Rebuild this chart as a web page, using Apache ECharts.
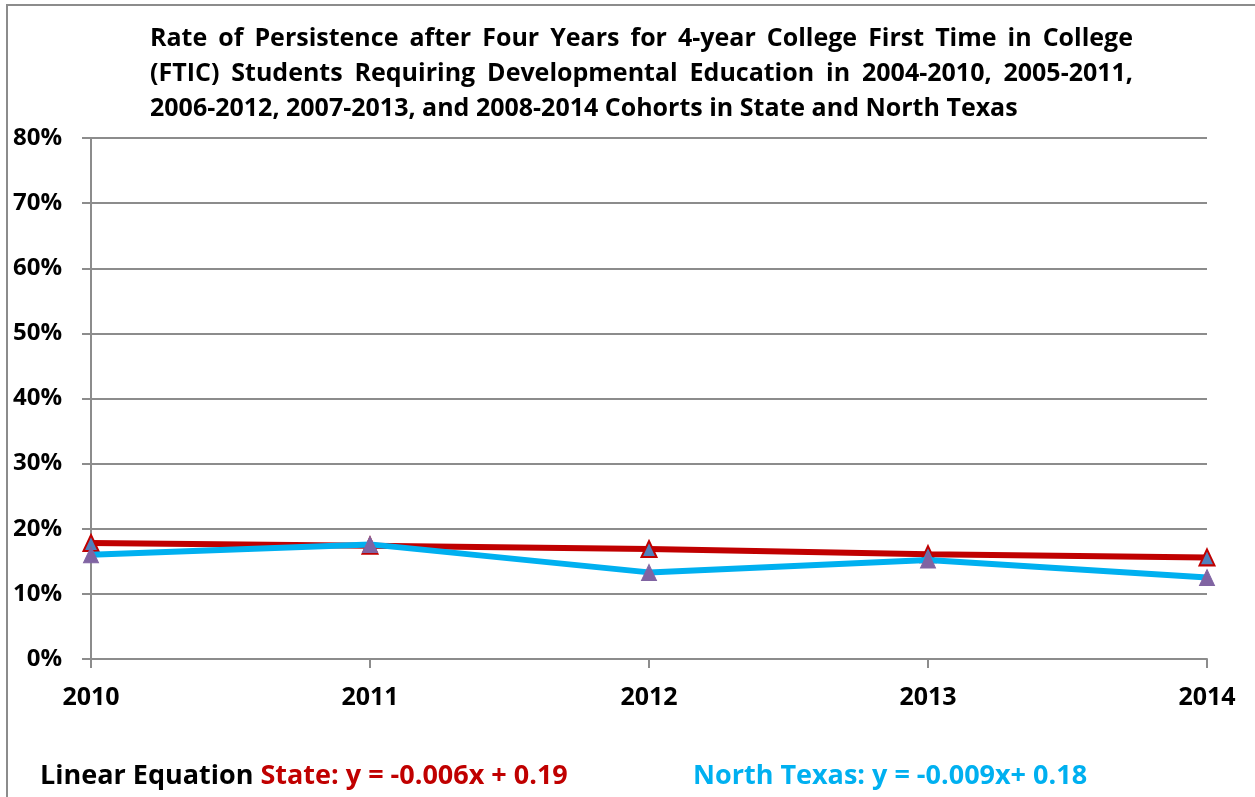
<!DOCTYPE html>
<html>
<head>
<meta charset="utf-8">
<script src="https://cdn.jsdelivr.net/npm/echarts@6/dist/echarts.min.js"></script>
<style>
  html, body { margin: 0; padding: 0; background: #ffffff; }
  #chart { width: 1255px; height: 797px; }
</style>
</head>
<body>
<div id="chart"></div>
<script>
// Cohort end years
const years = ['2010', '2011', '2012', '2013', '2014'];
// Persistence rates (%)
const stateRates = [17.8, 17.4, 16.9, 16.1, 15.6];
const northTexasRates = [16.0, 17.6, 13.3, 15.2, 12.5];
// Y axis ticks (%)
const yTicks = [0, 10, 20, 30, 40, 50, 60, 70, 80];

const titleLines = [
  'Rate of Persistence after Four Years for 4-year College First Time in College',
  '(FTIC) Students Requiring Developmental Education in 2004-2010, 2005-2011,',
  '2006-2012, 2007-2013, and 2008-2014 Cohorts in State and North Texas'
];

const FONT = '"Open Sans", "Noto Sans", sans-serif';
const TITLE_FONT = 'bold 25px ' + FONT;
const TITLE_LEFT = 150;
const TITLE_RIGHT = 1133;

// Lay out title words; every line but the last is justified to the full width
const ctx = document.createElement('canvas').getContext('2d');
ctx.font = TITLE_FONT;
const titleGraphics = [];
titleLines.forEach((line, i) => {
  const top = 26 + i * 35;
  const words = line.split(' ');
  const last = i === titleLines.length - 1;
  const widths = words.map(w => ctx.measureText(w).width);
  const total = widths.reduce((a, b) => a + b, 0);
  const gap = last ? ctx.measureText(' ').width
                   : (TITLE_RIGHT - TITLE_LEFT - total) / (words.length - 1);
  let x = TITLE_LEFT;
  words.forEach((w, j) => {
    titleGraphics.push({
      type: 'text', x: x, y: top,
      style: { text: w, fill: '#000', font: TITLE_FONT }
    });
    x += widths[j] + gap;
  });
});

const chart = echarts.init(document.getElementById('chart'), null, { renderer: 'canvas' });

chart.setOption({
  animation: false,
  backgroundColor: '#fff',
  grid: { left: 91, right: 48, top: 138, bottom: 138 },
  xAxis: {
    type: 'category',
    data: years,
    boundaryGap: false,
    axisLine: { lineStyle: { color: '#8c8c8c', width: 2 } },
    axisTick: { show: true, length: 9, lineStyle: { color: '#8c8c8c', width: 2 } },
    axisLabel: { color: '#000', fontWeight: 'bold', fontSize: 25, fontFamily: FONT, margin: 26 }
  },
  yAxis: {
    type: 'value',
    min: yTicks[0],
    max: yTicks[yTicks.length - 1],
    interval: 10,
    axisLine: { show: true, lineStyle: { color: '#8c8c8c', width: 2 } },
    axisTick: { show: true, length: 9, lineStyle: { color: '#8c8c8c', width: 2 } },
    splitLine: { lineStyle: { color: '#8c8c8c', width: 2 } },
    axisLabel: { color: '#000', fontWeight: 'bold', fontSize: 24, fontFamily: FONT, margin: 29, formatter: '{value}%' }
  },
  series: [
    {
      name: 'State',
      type: 'line',
      data: stateRates,
      symbol: 'triangle',
      symbolSize: [15, 16],
      lineStyle: { color: '#C00000', width: 6 },
      itemStyle: { color: '#4F81BD', borderColor: '#C00000', borderWidth: 2 },
      z: 2
    },
    {
      name: 'North Texas',
      type: 'line',
      data: northTexasRates,
      symbol: 'triangle',
      symbolSize: [15, 16],
      lineStyle: { color: '#00B0F0', width: 6 },
      itemStyle: { color: '#8064A2', borderColor: '#8064A2', borderWidth: 1 },
      z: 3
    }
  ],
  graphic: [
    {
      type: 'rect',
      shape: { x: 7, y: 5, width: 1400, height: 1000 },
      style: { fill: 'none', stroke: '#8c8c8c', lineWidth: 2 },
      silent: true
    },
    ...titleGraphics,
    {
      type: 'text',
      left: 40,
      top: 763,
      style: {
        text: '{k|Linear Equation }{s|State: y = -0.006x + 0.19}',
        rich: {
          k: { fill: '#000', font: 'bold 27px ' + FONT },
          s: { fill: '#C00000', font: 'bold 27px ' + FONT }
        }
      }
    },
    {
      type: 'text',
      left: 693,
      top: 763,
      style: { text: 'North Texas: y = -0.009x+ 0.18', fill: '#00B0F0', font: 'bold 27px ' + FONT }
    }
  ]
});
</script>
</body>
</html>
